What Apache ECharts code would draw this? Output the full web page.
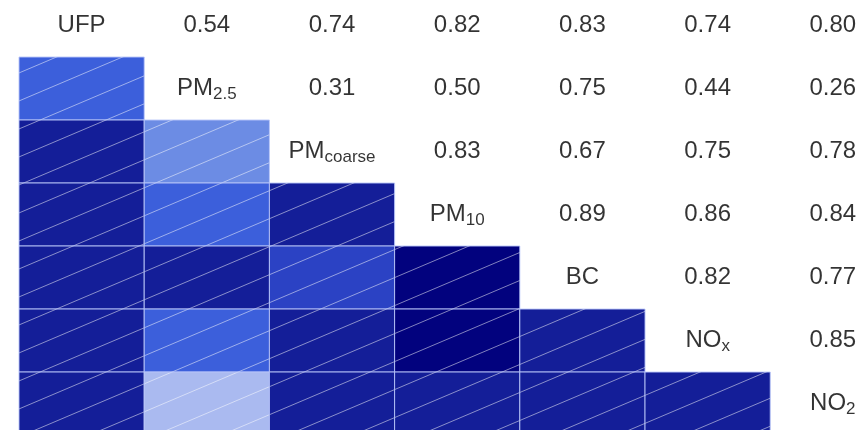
<!DOCTYPE html>
<html>
<head>
<meta charset="utf-8">
<style>
  html, body { margin: 0; padding: 0; background: #ffffff; }
  #chart { width: 860px; height: 430px; }
</style>
<script src="https://cdn.jsdelivr.net/npm/echarts@6/dist/echarts.min.js"></script>
</head>
<body>
<div id="chart"></div>
<script>
// Pollutant names (index order along both axes)
const pollutants = ['UFP', 'PM2.5', 'PMcoarse', 'PM10', 'BC', 'NOx', 'NO2'];
// Name split into main text and subscript for the diagonal labels
const nameMain = ['UFP', 'PM', 'PM', 'PM', 'BC', 'NO', 'NO'];
const nameSub  = ['', '2.5', 'coarse', '10', '', 'x', '2'];

// Pairwise correlation coefficients, one row per pollutant (upper triangle)
const rowUFP      = [0.54, 0.74, 0.82, 0.83, 0.74, 0.80];
const rowPM25     = [0.31, 0.50, 0.75, 0.44, 0.26];
const rowPMcoarse = [0.83, 0.67, 0.75, 0.78];
const rowPM10     = [0.89, 0.86, 0.84];
const rowBC       = [0.82, 0.77];
const rowNOx      = [0.85];
const upperRows = [rowUFP, rowPM25, rowPMcoarse, rowPM10, rowBC, rowNOx, []];

// Colour classes for the shaded lower triangle
const colourBreaks = [0.2, 0.3, 0.4, 0.6, 0.7, 0.855, 1.0];
const colourSteps  = ['#aabaf0', '#6c8ce4', '#3c5fdb', '#2b42c4', '#141e98', '#02027e'];

// Visible window of the matrix (it runs past the right and bottom edges)
const xWindow = [-0.5, 6.217];
const yWindow = [-0.405, 6.42];

// Build the cell lists from the rows
const textCells = [];   // [col, row, value] above the diagonal
const shadeCells = [];  // [col, row, value] below the diagonal (mirror)
upperRows.forEach((vals, i) => {
  vals.forEach((v, k) => {
    const j = i + 1 + k;
    textCells.push([j, i, v]);
    shadeCells.push([i, j, v]);
  });
});
const diagCells = pollutants.map((p, i) => [i, i, i]);

// Diagonal hatch tile (white hairlines rising to the right)
function makeHatch() {
  const w = 66, h = 28;
  const c = document.createElement('canvas');
  c.width = w; c.height = h;
  const g = c.getContext('2d');
  g.strokeStyle = 'rgba(255,255,255,0.5)';
  g.lineWidth = 1;
  for (let n = -1; n <= 1; n++) {
    g.beginPath();
    g.moveTo(-1, h + n * h + h / w);
    g.lineTo(w + 1, n * h - h / w);
    g.stroke();
  }
  return c;
}
const hatchTile = makeHatch();

const pieces = colourSteps.map((col, k) => ({
  gte: colourBreaks[k], lt: colourBreaks[k + 1], color: col
}));

const chart = echarts.init(document.getElementById('chart'), null, { renderer: 'canvas' });

const textFont = '"Liberation Sans", Arial, sans-serif';

chart.setOption({
  animation: false,
  backgroundColor: '#ffffff',
  grid: { left: 19, top: 0, right: 0, bottom: 0, containLabel: false },
  xAxis: { type: 'value', min: xWindow[0], max: xWindow[1], show: false },
  yAxis: { type: 'value', min: yWindow[0], max: yWindow[1], inverse: true, show: false },
  visualMap: {
    type: 'piecewise', show: false, seriesIndex: 0, dimension: 2, pieces: pieces
  },
  series: [
    {
      type: 'custom',
      data: shadeCells,
      encode: { x: 0, y: 1 },
      renderItem: function (params, api) {
        const p = api.coord([api.value(0), api.value(1)]);
        const s = api.size([1, 1]);
        const shape = { x: p[0] - s[0] / 2, y: p[1] - s[1] / 2, width: s[0], height: s[1] };
        return {
          type: 'group',
          children: [
            { type: 'rect', shape: shape, style: { fill: api.visual('color') } },
            { type: 'rect', shape: shape, silent: true,
              style: { fill: { image: hatchTile, repeat: 'repeat', x: 0, y: 25 } } },
            { type: 'rect', shape: shape, silent: true,
              style: { fill: 'none', stroke: 'rgba(185,198,250,0.9)', lineWidth: 1 } }
          ]
        };
      }
    },
    {
      type: 'scatter',
      data: textCells,
      symbolSize: 1,
      itemStyle: { color: 'rgba(0,0,0,0)' },
      label: {
        show: true, position: 'inside', color: '#000000',
        fontFamily: textFont, fontSize: 24,
        formatter: p => p.value[2].toFixed(2)
      }
    },
    {
      type: 'scatter',
      data: diagCells,
      symbolSize: 1,
      itemStyle: { color: 'rgba(0,0,0,0)' },
      label: {
        show: true, position: 'inside', color: '#000000',
        formatter: p => {
          const i = p.value[2];
          return '{m|' + nameMain[i] + '}' + (nameSub[i] ? '{s|' + nameSub[i] + '}' : '');
        },
        rich: {
          m: { fontFamily: textFont, fontSize: 24, lineHeight: 28, verticalAlign: 'middle', color: '#000' },
          s: { fontFamily: textFont, fontSize: 17, lineHeight: 13, verticalAlign: 'bottom', color: '#000' }
        }
      }
    }
  ]
});
</script>
</body>
</html>
